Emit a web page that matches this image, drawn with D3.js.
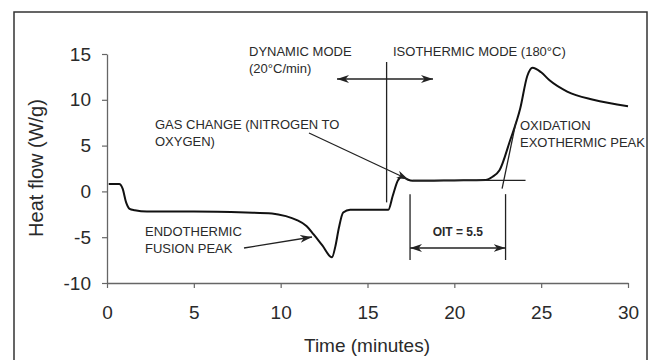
<!DOCTYPE html>
<html>
<head>
<meta charset="utf-8">
<script src="https://cdn.jsdelivr.net/npm/d3@7"></script>
<style>
  html, body { margin: 0; padding: 0; background: #fff; }
  svg { display: block; }
  text { font-family: "Liberation Sans", Arial, Helvetica, sans-serif; fill: #2a2a2a; }
</style>
</head>
<body>
<svg id="chart" width="650" height="360"></svg>
<script>
// DSC thermogram: oxidation induction time (OIT) test
const timeMin = [0.1, 0.7, 0.9, 1.1, 1.3, 1.6, 2.3, 5, 8, 9.5, 10.3, 10.9, 11.5, 11.9, 12.4, 12.95,
  13.15, 13.35, 13.6, 14.0, 16.2, 16.45, 16.75, 17.0, 17.3, 17.6, 20, 21.8, 22.2, 22.6, 23.2, 23.8,
  24.2, 24.5, 25.0, 25.5, 26.5, 28, 30];
const heatFlow = [0.8, 0.8, 0.3, -1.2, -1.9, -2.05, -2.2, -2.2, -2.3, -2.4, -2.7, -3.1, -3.8, -4.7, -5.9, -7.2,
  -6.0, -4.0, -2.3, -2.0, -2.0, -0.5, 1.2, 1.6, 1.3, 1.15, 1.2, 1.25, 1.6, 2.3, 5.5, 9.1,
  12.6, 13.5, 13.0, 12.1, 10.9, 10.0, 9.3];

const xTicks = [0, 5, 10, 15, 20, 25, 30];
const yTicks = [-10, -5, 0, 5, 10, 15];

const gasChangeTime = 16.1;   // switch from nitrogen to oxygen
const oitStart = 17.45;
const oitValue = 5.5;          // oxidation induction time, minutes
const baselineLevel = 1.2;     // isothermal baseline
const tangent = [[22.75, 0.3], [23.55, 7.6]]; // onset tangent of the exotherm

const svg = d3.select("#chart");
const x = d3.scaleLinear().domain([0, 30]).range([107, 628]);
const y = d3.scaleLinear().domain([-10, 15]).range([283, 54]);

// everything is drawn inside the outer frame
const defs = svg.append("defs");
defs.append("clipPath").attr("id", "frame-clip")
  .append("rect").attr("x", 14).attr("y", 12).attr("width", 632).attr("height", 360);
const g = svg.append("g").attr("clip-path", "url(#frame-clip)");

// outer frame
svg.append("rect").attr("x", 14).attr("y", 12).attr("width", 633).attr("height", 360)
  .attr("fill", "none").attr("stroke", "#333").attr("stroke-width", 1.5);

// axes
const axisColor = "#666";
const fmt = d => String(d);
const xAxis = g.append("g").attr("transform", `translate(0,${y(-10)})`)
  .call(d3.axisBottom(x).tickValues(xTicks).tickFormat(fmt).tickSize(5).tickPadding(18).tickSizeOuter(0));
const yAxis = g.append("g").attr("transform", `translate(${x(0)},0)`)
  .call(d3.axisLeft(y).tickValues(yTicks).tickFormat(fmt).tickSize(5).tickPadding(11).tickSizeOuter(0));
[xAxis, yAxis].forEach(a => {
  a.select(".domain").attr("stroke", axisColor).attr("stroke-width", 1.3);
  a.selectAll(".tick line").attr("stroke", axisColor).attr("stroke-width", 1.2);
  a.selectAll(".tick text").attr("font-size", 19).attr("fill", "#2a2a2a")
    .attr("font-family", "'Liberation Sans', Arial, sans-serif");
});

g.append("text").attr("x", 367).attr("y", 352).attr("text-anchor", "middle")
  .attr("font-size", 19).text("Time (minutes)");
g.append("text").attr("transform", `translate(43,168) rotate(-90)`).attr("text-anchor", "middle")
  .attr("font-size", 20).text("Heat flow (W/g)");

// thermogram curve
const pts = timeMin.map((t, i) => [t, heatFlow[i]]);
g.append("path").datum(pts)
  .attr("d", d3.line().x(d => x(d[0])).y(d => y(d[1])).curve(d3.curveMonotoneX))
  .attr("fill", "none").attr("stroke", "#111").attr("stroke-width", 2)
  .attr("stroke-linejoin", "round");

// arrow markers
defs.append("marker").attr("id", "head").attr("viewBox", "0 0 12 8")
  .attr("refX", 12).attr("refY", 4).attr("markerWidth", 12).attr("markerHeight", 8)
  .attr("markerUnits", "userSpaceOnUse").attr("orient", "auto-start-reverse")
  .append("path").attr("d", "M0,0 L12,4 L0,8 L3.5,4 Z").attr("fill", "#222");

const lineStyle = sel => sel.attr("stroke", "#222").attr("stroke-width", 1.3).attr("fill", "none");

// mode change marker
g.append("line").call(lineStyle)
  .attr("x1", x(gasChangeTime)).attr("x2", x(gasChangeTime)).attr("y1", 62).attr("y2", y(-1.2));
g.append("line").call(lineStyle)
  .attr("x1", 337).attr("x2", 433).attr("y1", 79).attr("y2", 79)
  .attr("marker-start", "url(#head)").attr("marker-end", "url(#head)");

// isothermal baseline and onset tangent
g.append("line").call(lineStyle)
  .attr("x1", x(17.6)).attr("x2", x(24.1)).attr("y1", y(baselineLevel)).attr("y2", y(baselineLevel));
g.append("line").call(lineStyle)
  .attr("x1", x(tangent[0][0])).attr("y1", y(tangent[0][1]))
  .attr("x2", x(tangent[1][0])).attr("y2", y(tangent[1][1]));

// OIT bracket
const oitEnd = oitStart + oitValue;
[oitStart, oitEnd].forEach(t => {
  g.append("line").call(lineStyle).attr("x1", x(t)).attr("x2", x(t))
    .attr("y1", y(-0.3)).attr("y2", 260);
});
g.append("line").call(lineStyle)
  .attr("x1", x(oitStart)).attr("x2", x(oitEnd)).attr("y1", 248).attr("y2", 248)
  .attr("marker-start", "url(#head)").attr("marker-end", "url(#head)");
g.append("text").attr("x", (x(oitStart) + x(oitEnd)) / 2).attr("y", 236)
  .attr("text-anchor", "middle").attr("font-size", 12).attr("font-weight", "bold")
  .text(`OIT = ${oitValue}`);

// annotation labels
const notes = [
  { x: 249, y: 56, lines: ["DYNAMIC MODE", "(20°C/min)"] },
  { x: 393, y: 56, lines: ["ISOTHERMIC MODE (180°C)"] },
  { x: 155, y: 129, lines: ["GAS CHANGE (NITROGEN TO", "OXYGEN)"] },
  { x: 520, y: 130, lines: ["OXIDATION", "EXOTHERMIC PEAK"] },
  { x: 145, y: 236, lines: ["ENDOTHERMIC", "FUSION PEAK"] }
];
notes.forEach(n => {
  const t = g.append("text").attr("x", n.x).attr("y", n.y).attr("font-size", 13);
  n.lines.forEach((s, i) => t.append("tspan").attr("x", n.x).attr("dy", i ? 17 : 0).text(s));
});

// pointer arrows
g.append("line").call(lineStyle)
  .attr("x1", 309).attr("y1", 133).attr("x2", x(17.35)).attr("y2", y(1.3))
  .attr("marker-end", "url(#head)");
g.append("line").call(lineStyle)
  .attr("x1", 244).attr("y1", 248).attr("x2", 312).attr("y2", 237)
  .attr("marker-end", "url(#head)");
</script>
</body>
</html>
